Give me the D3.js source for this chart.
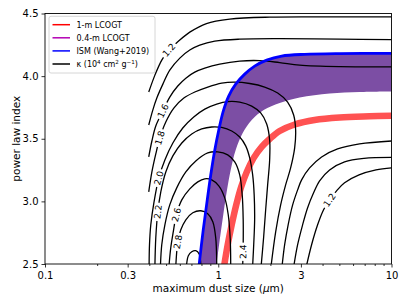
<!DOCTYPE html>
<html><head><meta charset="utf-8">
<script src="https://cdn.jsdelivr.net/npm/d3@7"></script>
<style>body{margin:0;background:#fff}svg{display:block}text{font-family:"DejaVu Sans",sans-serif}</style>
</head><body><svg id="c" width="407" height="305"></svg>
<script>
// ---------- data ----------
const xTicks=[0.1,0.3,1,3,10];
const xMinor=[0.2,0.4,0.5,0.6,0.7,0.8,0.9,2,4,5,6,7,8,9];
const yTicks=[2.5,3.0,3.5,4.0,4.5];
const legendLabels=["1-m LCOGT","0.4-m LCOGT","ISM (Wang+2019)","κ"];

// [amax (um), power-law index q]
const ism=[[0.775,2.49],[0.819,2.773],[0.864,3.012],[0.905,3.211],[0.955,3.411],[1.007,3.570],[1.069,3.721],[1.149,3.841],[1.261,3.936],[1.422,4.016],[1.622,4.080],[1.904,4.128],[2.323,4.160],[3.152,4.174],[5.016,4.180],[10,4.181]];
const lcogt04Upper=ism;
const lcogt04Lower=[[0.976,2.49],[1.020,2.694],[1.069,2.893],[1.124,3.092],[1.180,3.251],[1.261,3.411],[1.384,3.546],[1.560,3.650],[1.829,3.729],[2.262,3.785],[2.950,3.829],[4.393,3.861],[6.541,3.873],[10,3.877]];
const lcogt1m=[[1.083,2.49],[1.134,2.654],[1.196,2.813],[1.270,2.972],[1.357,3.116],[1.460,3.235],[1.602,3.347],[1.781,3.435],[1.980,3.498],[2.262,3.562],[2.761,3.614],[3.598,3.650],[5.016,3.670],[7.468,3.679],[10,3.683]];

// kappa contours (10^4 cm^2 g^-1)
const k12a=[[0.397,3.873],[0.431,4.008],[0.472,4.128],[0.518,4.208],[0.584,4.274],[0.685,4.351],[0.855,4.420],[1.165,4.455],[1.98,4.471],[4.393,4.473],[10,4.473]];
const k14a=[[0.397,3.610],[0.419,3.729],[0.442,3.825],[0.479,3.936],[0.525,4.048],[0.600,4.144],[0.685,4.208],[0.782,4.247],[0.955,4.279],[1.330,4.295],[2.262,4.299],[5.016,4.295],[10,4.292]];
const k16a=[[0.397,3.355],[0.414,3.482],[0.436,3.602],[0.479,3.721],[0.525,3.833],[0.584,3.921],[0.650,3.984],[0.732,4.032],[0.836,4.064],[1.020,4.096],[1.330,4.120],[1.734,4.124],[2.262,4.108],[2.950,4.088],[5.016,4.076],[10,4.074]];
const k18=[[0.397,3.076],[0.414,3.235],[0.436,3.379],[0.460,3.506],[0.498,3.634],[0.554,3.745],[0.633,3.825],[0.732,3.873],[0.870,3.913],[1.047,3.944],[1.245,3.952],[1.519,3.941],[1.853,3.913],[2.203,3.865],[2.515,3.793],[2.724,3.690],[2.797,3.570],[2.761,3.427],[2.617,3.267],[2.449,3.132],[2.292,2.972],[2.145,2.757],[2.020,2.49]];
const k20=[[0.399,2.49],[0.401,2.654],[0.408,2.813],[0.425,2.988],[0.454,3.188],[0.492,3.331],[0.547,3.466],[0.624,3.586],[0.722,3.674],[0.836,3.737],[0.980,3.777],[1.134,3.797],[1.330,3.793],[1.560,3.761],[1.758,3.706],[1.904,3.618],[1.980,3.490],[1.980,3.331],[1.928,3.132],[1.878,2.933],[1.829,2.718],[1.770,2.49]];
const k22=[[0.431,2.49],[0.436,2.709],[0.448,2.917],[0.466,3.076],[0.498,3.235],[0.547,3.363],[0.616,3.466],[0.703,3.538],[0.803,3.578],[0.917,3.594],[1.047,3.590],[1.196,3.562],[1.330,3.514],[1.440,3.443],[1.519,3.347],[1.580,3.211],[1.612,3.052],[1.622,2.853],[1.602,2.654],[1.580,2.49]];
const k24=[[0.464,2.49],[0.472,2.654],[0.492,2.813],[0.525,2.972],[0.576,3.108],[0.650,3.235],[0.742,3.323],[0.870,3.387],[0.993,3.395],[1.134,3.371],[1.245,3.315],[1.330,3.211],[1.375,3.052],[1.393,2.853],[1.393,2.654],[1.384,2.49]];
const k26=[[0.520,2.49],[0.532,2.630],[0.550,2.757],[0.573,2.893],[0.616,3.012],[0.685,3.100],[0.762,3.156],[0.836,3.180],[0.917,3.172],[1.007,3.124],[1.090,3.028],[1.142,2.893],[1.173,2.694],[1.180,2.49]];
const k28=[[0.569,2.49],[0.576,2.598],[0.584,2.678],[0.608,2.773],[0.650,2.853],[0.713,2.909],[0.793,2.925],[0.870,2.901],[0.930,2.837],[0.967,2.709],[0.980,2.49]];
const k30=[[0.656,2.49],[0.672,2.566],[0.703,2.598],[0.742,2.606],[0.777,2.578],[0.793,2.49]];
const k16b=[[2.338,2.49],[2.417,2.654],[2.532,2.813],[2.688,2.972],[2.872,3.092],[3.028,3.172],[3.368,3.267],[3.950,3.355],[4.884,3.419],[6.541,3.459],[10,3.482]];
const k14b=[[2.735,2.49],[2.872,2.654],[3.069,2.813],[3.280,2.949],[3.551,3.068],[3.846,3.164],[4.393,3.251],[5.360,3.315],[6.942,3.343],[10,3.351]];
const k12b=[[3.236,2.49],[3.458,2.654],[3.746,2.813],[4.055,2.933],[4.393,3.012],[4.819,3.084],[5.360,3.148],[6.497,3.211],[8.140,3.251],[10,3.267]];

const contourLevels=[1.2,1.4,1.6,1.8,2.0,2.2,2.4,2.6,2.8,3.0,1.6,1.4,1.2];
const contourLines=[k12a,k14a,k16a,k18,k20,k22,k24,k26,k28,k30,k16b,k14b,k12b];

// contour labels: index of line, position (amax, q)
const labelLine=[0,2,3,4,5,7,8,6,12];
const labelAmax=[0.518,0.479,0.460,0.454,0.448,0.573,0.584,1.384,4.393];
const labelQ=[4.208,3.721,3.506,3.188,2.917,2.893,2.678,2.60,3.012];

// ---------- drawing ----------
const W=407,H=305,L=45,R=391.5,T=13.5,B=264;
const svg=d3.select("#c");
svg.append("rect").attr("width",W).attr("height",H).attr("fill","#fff");
const defs=svg.append("defs");
defs.append("clipPath").attr("id","pc").append("rect").attr("x",L).attr("y",T).attr("width",R-L).attr("height",B-T);
const x=d3.scaleLog().domain([0.1,10]).range([L,R]);
const y=d3.scaleLinear().domain([2.5,4.5]).range([B,T]);
const line=d3.line().x(d=>x(d[0])).y(d=>y(d[1])).curve(d3.curveCatmullRom.alpha(0.5));
const plot=svg.append("g").attr("clip-path","url(#pc)");

// purple band
const up=line(lcogt04Upper), lo=line(lcogt04Lower.slice().reverse());
plot.append("path").attr("d",up+"L"+lo.slice(1)+"Z").attr("fill","#7c4ea4");
// red band
plot.append("path").attr("d",line(lcogt1m)).attr("fill","none").attr("stroke","#ff5252").attr("stroke-width",6.5);

// contours
const labG=plot.append("g");
contourLines.forEach((pts,i)=>{
  const p=plot.append("path").attr("d",line(pts)).attr("fill","none").attr("stroke","#000").attr("stroke-width",1.3);
  const labs=labelLine.map((li,j)=>li===i?j:-1).filter(j=>j>=0);
  if(!labs.length) return;
  const node=p.node(), len=node.getTotalLength();
  const m=defs.append("mask").attr("id","mk"+i).attr("maskUnits","userSpaceOnUse").attr("x",0).attr("y",0).attr("width",W).attr("height",H);
  m.append("rect").attr("width",W).attr("height",H).attr("fill","#fff");
  labs.forEach(j=>{
    const tx=x(labelAmax[j]), ty=y(labelQ[j]);
    let best=0,bd=1e9;
    for(let s=0;s<=len;s+=0.5){const pt=node.getPointAtLength(s);const dd=(pt.x-tx)**2+(pt.y-ty)**2;if(dd<bd){bd=dd;best=s;}}
    const a=node.getPointAtLength(Math.max(0,best-5)), b=node.getPointAtLength(Math.min(len,best+5)), c=node.getPointAtLength(best);
    let ang=Math.atan2(b.y-a.y,b.x-a.x)*180/Math.PI;
    if(ang>=90)ang-=180; if(ang<-90)ang+=180;
    const t=labG.append("text").attr("transform",`translate(${c.x},${c.y}) rotate(${ang})`)
      .attr("text-anchor","middle").attr("dy","0.36em").attr("font-size",9).attr("fill","#000")
      .text(contourLevels[i].toFixed(1));
    const w=t.node().getComputedTextLength();
    m.append("rect").attr("x",-w/2-2).attr("y",-4).attr("width",w+4).attr("height",8)
      .attr("transform",`translate(${c.x},${c.y}) rotate(${ang})`).attr("fill","#000");
  });
  p.attr("mask","url(#mk"+i+")");
});
labG.raise();

// ISM line
plot.append("path").attr("d",line(ism)).attr("fill","none").attr("stroke","#0000ff").attr("stroke-width",2.8);

// axes
const ax=svg.append("g").attr("transform",`translate(0,${B})`).attr("font-size",10).attr("font-family","DejaVu Sans")
  .call(d3.axisBottom(x).tickValues(xTicks).tickSize(3.5).tickPadding(4).tickFormat(d=>String(d)));
const axm=svg.append("g").attr("transform",`translate(0,${B})`).call(d3.axisBottom(x).tickValues(xMinor).tickSize(2).tickFormat(""));
const ay=svg.append("g").attr("transform",`translate(${L},0)`).attr("font-size",10).attr("font-family","DejaVu Sans")
  .call(d3.axisLeft(y).tickValues(yTicks).tickSize(3.5).tickPadding(3).tickFormat(d3.format(".1f")));
[ax,axm,ay].forEach(g=>{g.select(".domain").remove();g.selectAll(".tick line").attr("stroke","#000").attr("stroke-width",0.8);g.selectAll("text").attr("fill","#000");});
svg.append("rect").attr("x",L).attr("y",T).attr("width",R-L).attr("height",B-T).attr("fill","none").attr("stroke","#000").attr("stroke-width",0.9);

svg.append("text").attr("x",(L+R)/2).attr("y",292).attr("text-anchor","middle").attr("font-size",10.5)
  .call(t=>{t.append("tspan").text("maximum dust size (");t.append("tspan").attr("font-style","italic").text("μ");t.append("tspan").text("m)");});
svg.append("text").attr("transform",`translate(19.5,${(T+B)/2}) rotate(-90)`).attr("text-anchor","middle").attr("font-size",10.5).text("power law index");

// legend
const legendColors=["#ff0000","#b400b4","#0000ff","#000000"];
const lg=svg.append("g");
lg.append("rect").attr("x",49).attr("y",16.3).attr("width",106).attr("height",56.7).attr("rx",2)
  .attr("fill","#fff").attr("fill-opacity",0.8).attr("stroke","#cccccc").attr("stroke-width",0.8);
legendLabels.forEach((s,i)=>{
  const yy=24.7+i*13.1;
  lg.append("line").attr("x1",52.5).attr("x2",70).attr("y1",yy).attr("y2",yy).attr("stroke",legendColors[i]).attr("stroke-width",1.5);
  const t=lg.append("text").attr("x",76.5).attr("y",yy+2.9).attr("font-size",8);
  if(i<3){t.text(s);}
  else{
    const sup=(txt)=>{t.append("tspan").attr("font-size",5.6).attr("dy",-3.2).text(txt);};
    const base=(txt)=>{t.append("tspan").attr("dy",3.2).text(txt);};
    t.append("tspan").text(s+" (10");
    sup("4"); base(" cm"); sup("2"); base(" g"); sup("−1"); base(")");
  }
});
</script></body></html>
